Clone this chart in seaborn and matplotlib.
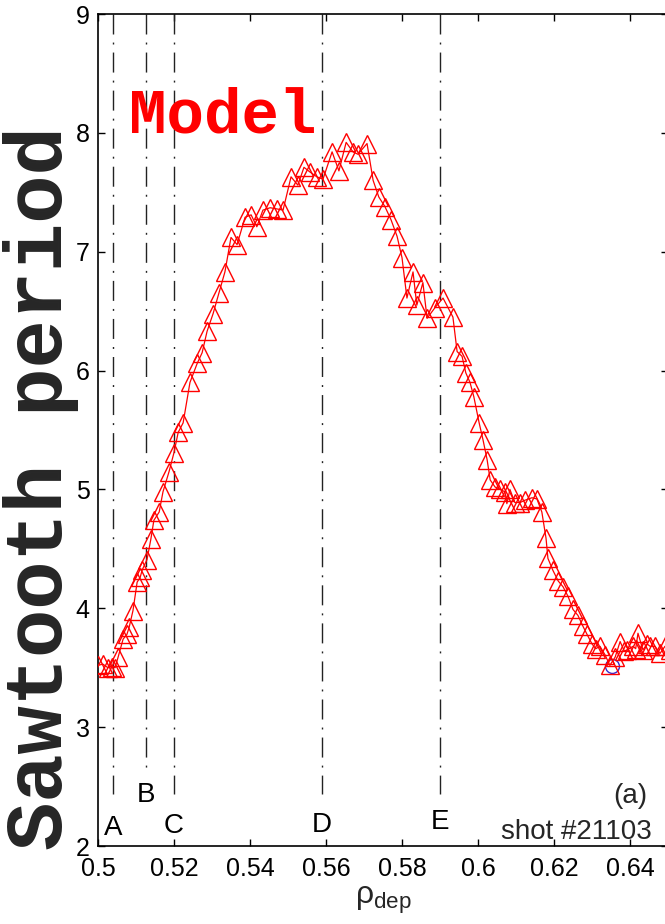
import matplotlib
matplotlib.use("Agg")
import matplotlib.pyplot as plt
import seaborn as sns
import pandas as pd

# ---- data ----
rho_dep = [0.5000, 0.5013, 0.5026, 0.5037, 0.5045, 0.5053, 0.5066, 0.5076, 0.5082, 0.5092,
           0.5103, 0.5111, 0.5116, 0.5129, 0.5139, 0.5147, 0.5161, 0.5171, 0.5187, 0.5200,
           0.5211, 0.5224, 0.5242, 0.5261, 0.5274, 0.5287, 0.5303, 0.5318, 0.5334, 0.5350,
           0.5366, 0.5387, 0.5403, 0.5418, 0.5434, 0.5453, 0.5471, 0.5487, 0.5508, 0.5526,
           0.5542, 0.5558, 0.5576, 0.5592, 0.5616, 0.5634, 0.5653, 0.5671, 0.5684, 0.5708,
           0.5724, 0.5739, 0.5755, 0.5771, 0.5787, 0.5800, 0.5813, 0.5829, 0.5839, 0.5855,
           0.5866, 0.5887, 0.5908, 0.5934, 0.5945, 0.5958, 0.5968, 0.5979, 0.5989, 0.6003,
           0.6013, 0.6024, 0.6032, 0.6045, 0.6058, 0.6071, 0.6076, 0.6084, 0.6097, 0.6111,
           0.6124, 0.6142, 0.6155, 0.6168, 0.6179, 0.6184, 0.6197, 0.6211, 0.6224, 0.6237,
           0.6250, 0.6263, 0.6276, 0.6287, 0.6300, 0.6310, 0.6321, 0.6334, 0.6347, 0.6361,
           0.6374, 0.6385, 0.6392, 0.6408, 0.6415, 0.6421, 0.6434, 0.6445, 0.6453, 0.6466,
           0.6479, 0.6492, 0.6505]
period = [3.52, 3.53, 3.50, 3.51, 3.50, 3.59, 3.74, 3.78, 3.84, 3.98,
          4.22, 4.26, 4.32, 4.41, 4.58, 4.74, 4.81, 4.98, 5.15, 5.31,
          5.48, 5.56, 5.90, 6.06, 6.15, 6.33, 6.48, 6.65, 6.83, 7.12,
          7.06, 7.29, 7.31, 7.21, 7.35, 7.37, 7.36, 7.35, 7.63, 7.56,
          7.71, 7.67, 7.63, 7.61, 7.84, 7.68, 7.92, 7.84, 7.82, 7.91,
          7.60, 7.46, 7.38, 7.27, 7.13, 6.95, 6.61, 6.83, 6.55, 6.74,
          6.44, 6.53, 6.61, 6.45, 6.16, 6.12, 5.98, 5.90, 5.78, 5.56,
          5.42, 5.25, 5.08, 5.02, 5.00, 4.98, 4.88, 5.00, 4.89, 4.89,
          4.91, 4.93, 4.92, 4.81, 4.59, 4.42, 4.32, 4.23, 4.18, 4.10,
          3.99, 3.94, 3.85, 3.78, 3.70, 3.66, 3.68, 3.61, 3.52, 3.59,
          3.72, 3.64, 3.65, 3.68, 3.66, 3.79, 3.65, 3.70, 3.68, 3.68,
          3.62, 3.68, 3.65]

marker_labels = ["A", "B", "C", "D", "E"]
marker_pos = [0.5040, 0.5126, 0.5200, 0.5589, 0.5900]
marker_line_bottom = [2.44, 2.62, 2.44, 2.44, 2.44]
marker_label_y = [2.15, 2.43, 2.17, 2.18, 2.20]

x_ticks = [0.50, 0.52, 0.54, 0.56, 0.58, 0.60, 0.62, 0.64]
x_tick_labels = ["0.5", "0.52", "0.54", "0.56", "0.58", "0.6", "0.62", "0.64"]
y_ticks = [2, 3, 4, 5, 6, 7, 8, 9]
y_tick_labels = ["2", "3", "4", "5", "6", "7", "8", "9"]

exp_rho = [0.6353]
exp_period = [3.515]

# ---- style ----
sns.set_style("ticks")
plt.rcParams["font.family"] = ["Liberation Sans", "DejaVu Sans"]
plt.rcParams["mathtext.fontset"] = "custom"
plt.rcParams["mathtext.rm"] = "Liberation Sans"
plt.rcParams["mathtext.it"] = "Liberation Sans:italic"
plt.rcParams["lines.scale_dashes"] = False

fig = plt.figure(figsize=(6.65, 9.24), dpi=100)
ax = fig.add_axes([98 / 665, 78 / 924, 570 / 665, 832 / 924])

df = pd.DataFrame({"rho": rho_dep, "period": period})

# vertical dash-dot reference lines
for xp, yb in zip(marker_pos, marker_line_bottom):
    ax.plot([xp, xp], [9, yb], color="#222222", lw=1.0,
            dashes=(14.4, 5.8, 1.4, 5.8), zorder=1)

sns.lineplot(data=df, x="rho", y="period", ax=ax, estimator=None, sort=False,
             color="red", lw=0.9, marker="^", markersize=13.5,
             markerfacecolor="none", markeredgecolor="red", markeredgewidth=1.0,
             zorder=3)

ax.plot(exp_rho, exp_period, "o", ms=10, mfc="none", mec="#3a2bd0", mew=1.0, zorder=2)

for lab, xp, yl in zip(marker_labels, marker_pos, marker_label_y):
    ax.text(xp, yl, lab, fontsize=20, ha="center", va="center", color="black")

ax.text(0.6447, 2.42, "(a)", fontsize=20, ha="right", va="center")
ax.text(0.6458, 2.12, "shot #21103", fontsize=20, ha="right", va="center")

ax.text(0.5082, 8.0, "Model", color="red", fontsize=45,
        family=["Liberation Mono", "DejaVu Sans Mono"], weight="bold",
        ha="left", va="baseline")

ax.set_xlim(0.5, 0.65)
ax.set_ylim(2, 9)
ax.set_xticks(x_ticks)
ax.set_xticklabels(x_tick_labels)
ax.set_yticks(y_ticks)
ax.set_yticklabels(y_tick_labels)
ax.tick_params(direction="in", top=True, right=True, length=5, width=1.0,
               labelsize=18, colors="black")
ax.tick_params(axis="x", pad=8)
ax.tick_params(axis="y", pad=6)
for sp in ax.spines.values():
    sp.set_linewidth(1.2)
    sp.set_color("black")
    sp.set_visible(True)

ax.set_xlabel(r"$\mathrm{\rho}_{\mathrm{dep}}$", fontsize=23, labelpad=3)
ax.set_ylabel("")

fig.text(41 / 665, 1 - 488 / 924, "Sawtooth period", rotation=90,
         ha="center", va="center", fontsize=58,
         family=["Liberation Mono", "DejaVu Sans Mono"], weight="bold")

fig.savefig("out.png", dpi=100)
